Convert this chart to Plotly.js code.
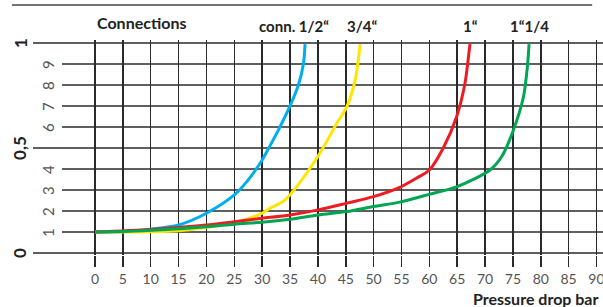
<!DOCTYPE html>
<html><head><meta charset="utf-8">
<script src="https://cdn.plot.ly/plotly-3.0.1.min.js"></script>
<style>html,body{margin:0;padding:0;background:#fff;overflow:hidden}</style>
</head><body><div id="chart" style="width:603px;height:307px"></div>
<script>
// ---- data ----
const seriesNames = ['conn. 1/2\u201C', '3/4\u201C', '1\u201C', '1\u201C1/4'];
const seriesColors = ['#00aeef', '#ffe600', '#ed1c24', '#00a651'];

const xHalf  = [0, 5, 10, 15, 20, 25, 27.5, 30, 31.4, 33, 35, 36.5, 37.4, 37.7];
const yHalf  = [0.100, 0.102, 0.113, 0.133, 0.189, 0.276, 0.348, 0.443, 0.51, 0.59, 0.70, 0.80, 0.90, 0.995];

const xThreeQ = [0, 10, 15, 20, 25, 30, 31.4, 34, 39.8, 43.4, 45.2, 46.7, 47.4, 47.6];
const yThreeQ = [0.100, 0.101, 0.105, 0.122, 0.144, 0.189, 0.213, 0.250, 0.451, 0.618, 0.697, 0.824, 0.951, 0.995];

const xOne = [0, 10, 20, 25, 30, 35, 40.1, 45.2, 50, 54.7, 57.7, 60, 62.5, 64.9, 66.4, 67.1, 67.3];
const yOne = [0.100, 0.112, 0.133, 0.149, 0.165, 0.181, 0.205, 0.237, 0.268, 0.312, 0.356, 0.395, 0.50, 0.649, 0.808, 0.951, 0.995];

const xOneQ = [0, 5, 20, 25, 30, 35, 40.1, 45.2, 50, 54.7, 60.1, 65, 70.9, 73, 75.1, 76.9, 77.6, 77.9];
const yOneQ = [0.100, 0.102, 0.125, 0.137, 0.146, 0.16, 0.181, 0.197, 0.221, 0.242, 0.28, 0.316, 0.395, 0.459, 0.586, 0.744, 0.887, 0.995];

const xTicks = [0, 5, 10, 15, 20, 25, 30, 35, 40, 45, 50, 55, 60, 65, 70, 75, 80, 85, 90];
const yMajorVals = [0, 0.5, 1];
const yMajorText = ['0', '0,5', '1'];
const yMinorVals = [0.1, 0.2, 0.3, 0.4, 0.6, 0.7, 0.8, 0.9];
const yMinorText = ['1', '2', '3', '4', '6', '7', '8', '9'];
const yGridMinor = [0.1, 0.2, 0.3, 0.4, 0.6, 0.7, 0.8, 0.9];
const yGridMajor = [0, 0.5, 1];

const chartTitle = 'Connections';
const xTitle = 'Pressure drop bar';

// ---- build ----
const FONT = 'Lato, "Open Sans", sans-serif';
const GRID = '#2a2a2a';
const xs = [xHalf, xThreeQ, xOne, xOneQ];
const ys = [yHalf, yThreeQ, yOne, yOneQ];
const traces = xs.map((x, i) => ({
  type: 'scatter', mode: 'lines', x: x, y: ys[i], name: seriesNames[i],
  line: {color: seriesColors[i], width: 3, shape: 'spline', smoothing: 0.8},
  hoverinfo: 'skip'
}));

const xMin = -11.13, xMax = 91.17;
const shapes = [];
yGridMinor.forEach(v => shapes.push({type: 'line', xref: 'x', yref: 'y', x0: -5.93, x1: xMax, y0: v, y1: v,
  layer: 'below', line: {color: GRID, width: 1.5}}));
yGridMajor.forEach(v => shapes.push({type: 'line', xref: 'x', yref: 'y', x0: xMin, x1: xMax, y0: v, y1: v,
  layer: 'below', line: {color: GRID, width: 1.5}}));
// top rule
shapes.push({type: 'line', xref: 'paper', yref: 'paper', x0: -0.037, x1: 0.981, y0: 1.163, y1: 1.163,
  line: {color: '#444', width: 1.5}});

const annotations = [];
yMajorVals.forEach((v, i) => annotations.push({xref: 'paper', yref: 'y', x: -0.0228, y: v, text: yMajorText[i],
  showarrow: false, textangle: -90, xanchor: 'center', yanchor: 'middle',
  font: {family: FONT, size: 17, color: '#222', weight: 'bold'}}));
yMinorVals.forEach((v, i) => annotations.push({xref: 'paper', yref: 'y', x: 0.0263, y: v, text: yMinorText[i],
  showarrow: false, textangle: -90, xanchor: 'center', yanchor: 'middle',
  font: {family: FONT, size: 15, color: '#555'}}));
annotations.push({xref: 'paper', yref: 'paper', x: (141.5 - 33) / 570, y: (253 - 23) / 213, text: '<b>' + chartTitle + '</b>',
  showarrow: false, xanchor: 'center', yanchor: 'middle', font: {family: FONT, size: 16, color: '#222'}});
const labelPx = [293.5, 361.5, 470, 529.5];
seriesNames.forEach((n, i) => annotations.push({xref: 'paper', yref: 'paper', x: (labelPx[i] - 33) / 570,
  y: (253 - 26) / 213, text: '<b>' + n + '</b>', showarrow: false, xanchor: 'center', yanchor: 'middle',
  font: {family: FONT, size: 15, color: '#222'}}));
annotations.push({xref: 'paper', yref: 'paper', x: (471 - 33) / 570, y: (253 - 296) / 213, text: '<b>' + xTitle + '</b>',
  showarrow: false, xanchor: 'left', yanchor: 'middle', font: {family: FONT, size: 16, color: '#222'}});

const layout = {
  width: 603, height: 307,
  margin: {l: 33, r: 0, t: 40, b: 52, pad: 0},
  paper_bgcolor: '#fff', plot_bgcolor: '#fff',
  showlegend: false,
  xaxis: {range: [xMin, xMax], tickvals: xTicks, ticktext: xTicks.map(String), showgrid: true,
    gridcolor: GRID, gridwidth: 1.5, zeroline: false, showline: false,
    ticks: 'outside', ticklen: 11, tickwidth: 1.5, tickcolor: GRID, ticklabeloverflow: 'allow',
    tickfont: {family: FONT, size: 14, color: '#555'}, fixedrange: true},
  yaxis: {range: [-0.01, 1.0143], showgrid: false, zeroline: false, showline: false,
    showticklabels: false, ticks: '', fixedrange: true},
  shapes: shapes,
  annotations: annotations
};
Plotly.newPlot('chart', traces, layout, {displayModeBar: false, staticPlot: true});
</script>
</body></html>
